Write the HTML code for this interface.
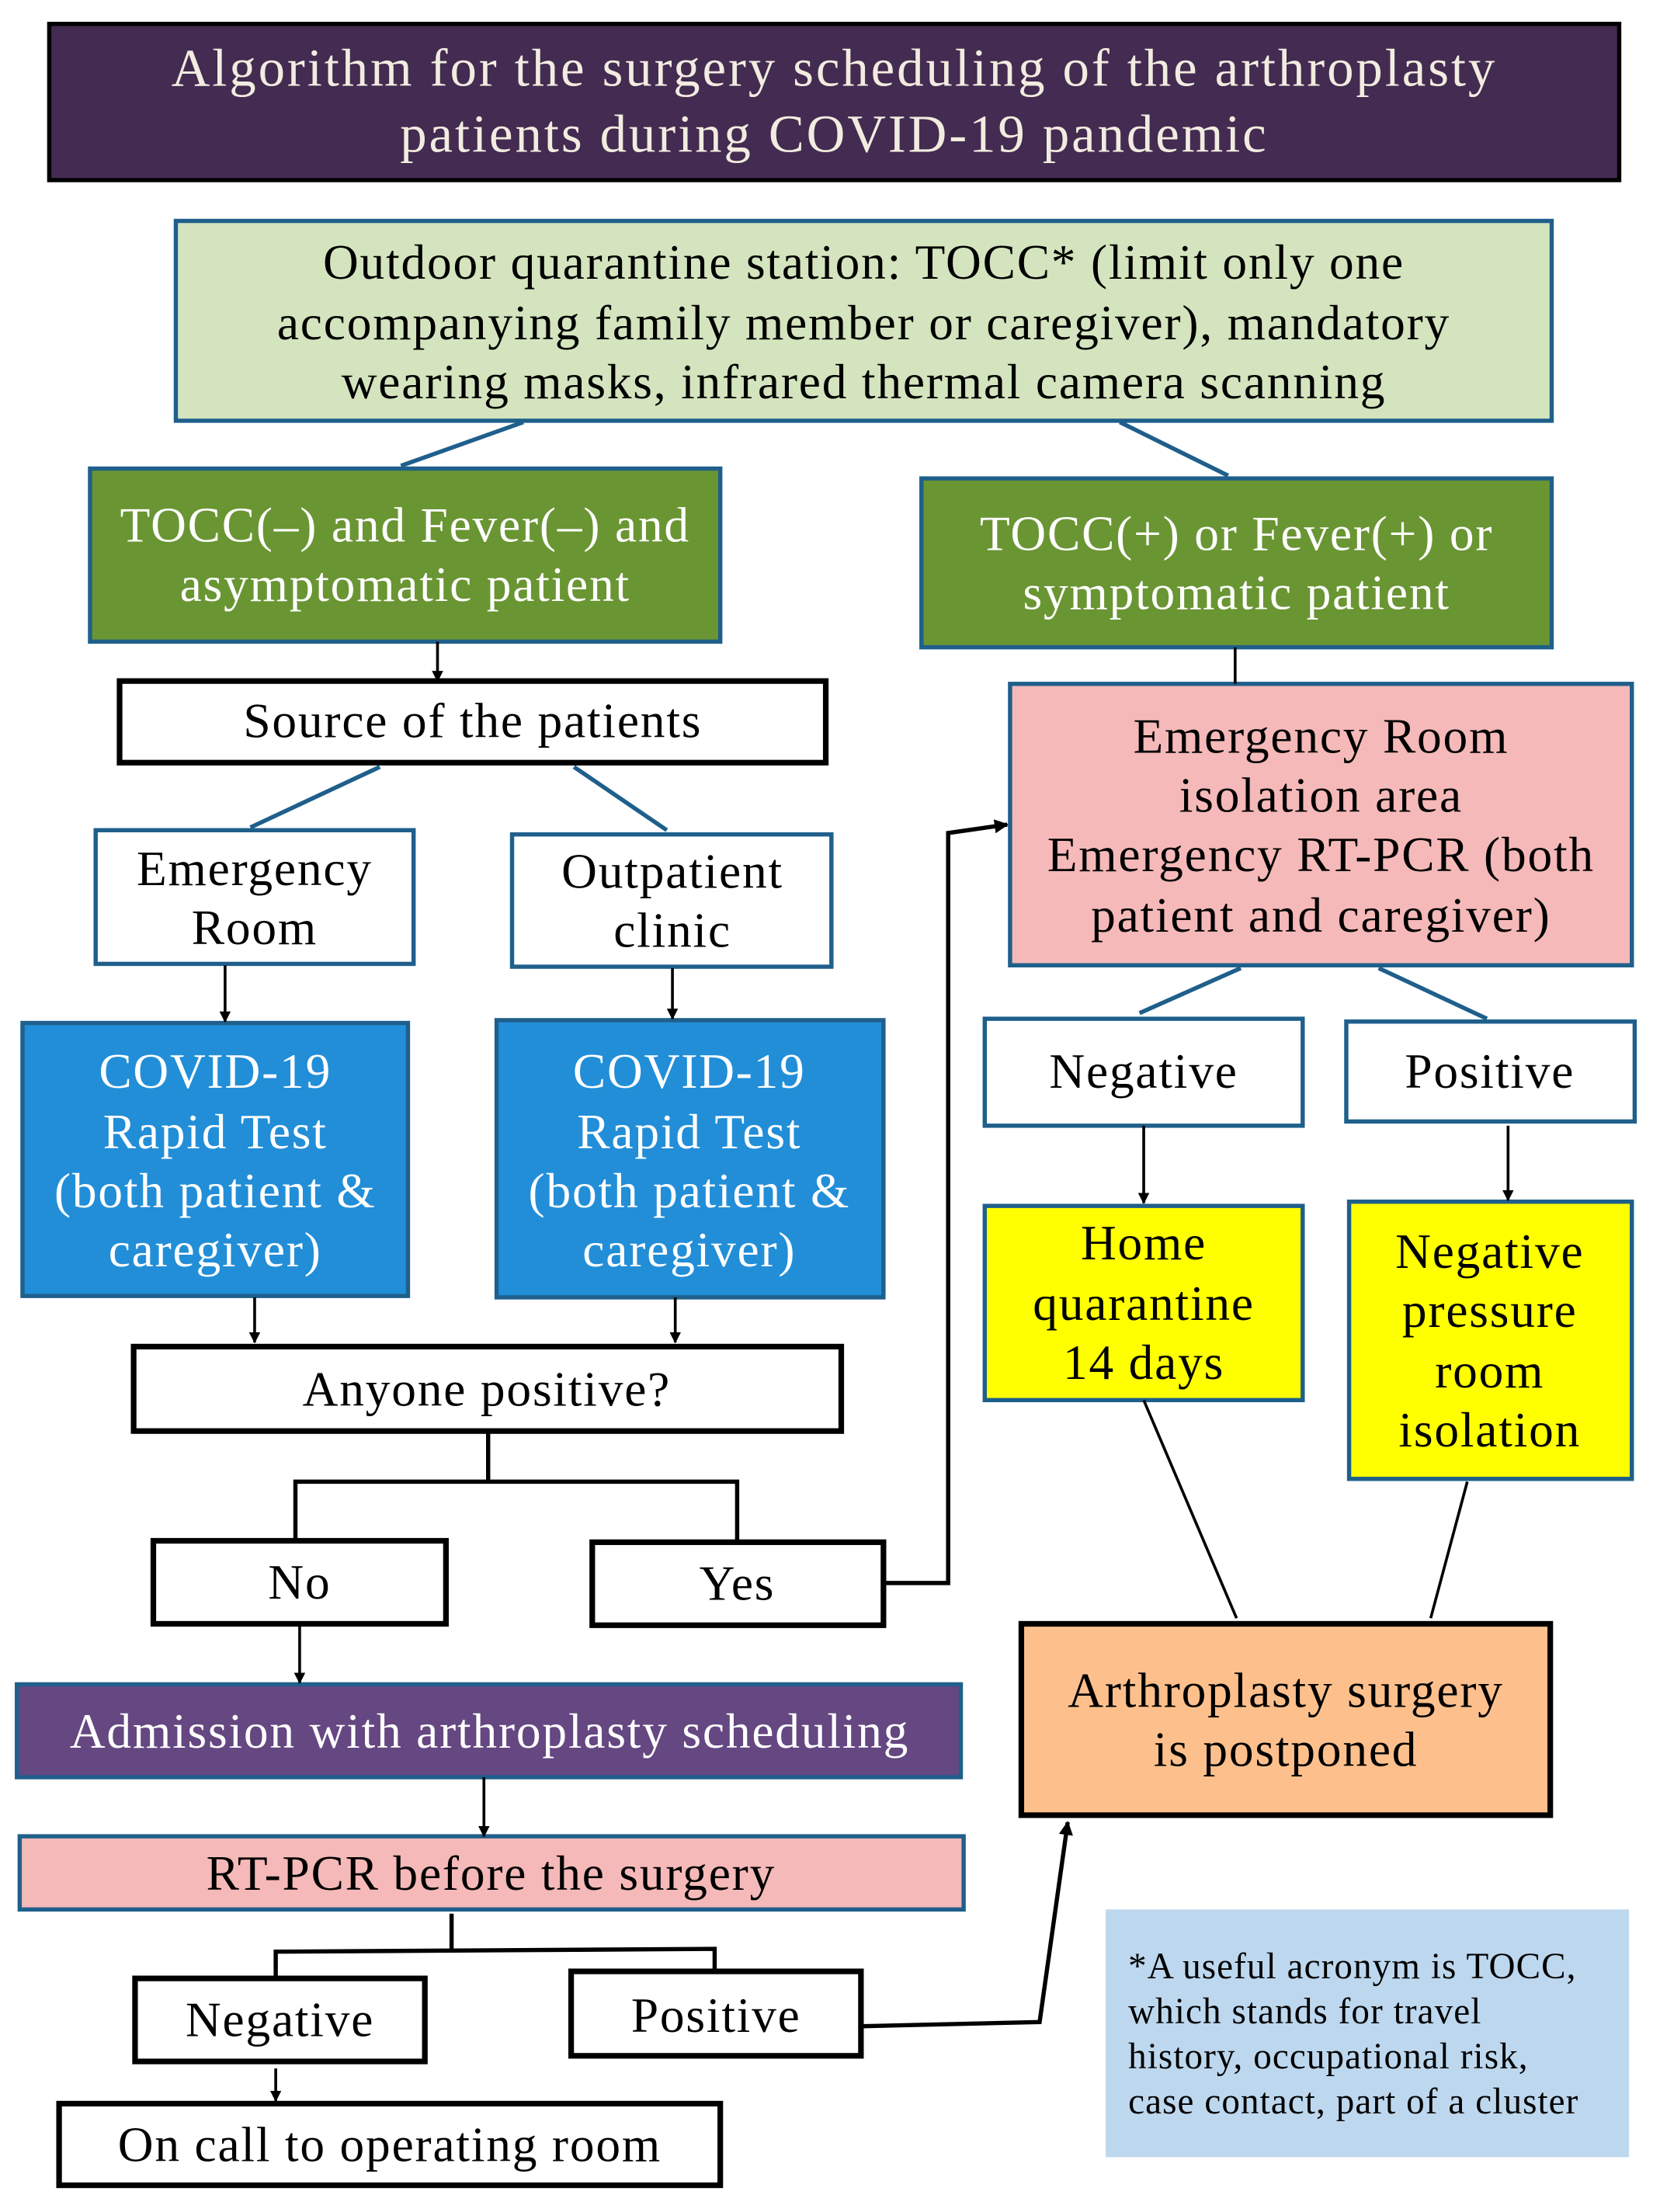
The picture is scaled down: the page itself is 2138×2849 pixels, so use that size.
<!DOCTYPE html>
<html><head><meta charset="utf-8"><style>
html,body{margin:0;padding:0;background:#fff;}
svg{display:block;}
text{font-family:"Liberation Serif",serif;text-anchor:middle;}
</style></head><body>
<svg width="2138" height="2849" viewBox="0 0 1180 1572" preserveAspectRatio="none" xmlns="http://www.w3.org/2000/svg">
<defs><marker id="a" viewBox="0 0 10 10" refX="9" refY="5" markerWidth="8" markerHeight="8" orient="auto" markerUnits="userSpaceOnUse"><path d="M0,0L10,5L0,10z" fill="#000"/></marker>
<marker id="b" viewBox="0 0 10 10" refX="9" refY="5" markerWidth="14" markerHeight="10" orient="auto" markerUnits="userSpaceOnUse"><path d="M0,0L10,5L0,10z" fill="#000"/></marker></defs>
<g stroke-width="3">
<rect x="35" y="17" width="1116" height="111" fill="#432b51" stroke="#000"/>
<rect x="125" y="157" width="978" height="142" fill="#d4e4be" stroke="#1f5f8b"/>
<rect x="64" y="333" width="448" height="123" fill="#6a9533" stroke="#1f5f8b"/>
<rect x="655" y="340" width="448" height="120" fill="#6a9533" stroke="#1f5f8b"/>
<rect x="85" y="484" width="502" height="58" fill="#fff" stroke="#000" stroke-width="4"/>
<rect x="718" y="486" width="442" height="200" fill="#f4b9b8" stroke="#1f5f8b"/>
<rect x="68" y="590" width="226" height="95" fill="#fff" stroke="#1f5f8b"/>
<rect x="364" y="593" width="227" height="94" fill="#fff" stroke="#1f5f8b"/>
<rect x="16" y="727" width="274" height="194" fill="#228ed8" stroke="#1f5f8b"/>
<rect x="353" y="725" width="275" height="197" fill="#228ed8" stroke="#1f5f8b"/>
<rect x="95" y="957" width="503" height="60" fill="#fff" stroke="#000" stroke-width="4"/>
<rect x="109" y="1095" width="208" height="59" fill="#fff" stroke="#000" stroke-width="4"/>
<rect x="421" y="1096" width="207" height="59" fill="#fff" stroke="#000" stroke-width="4"/>
<rect x="12" y="1197" width="671" height="66" fill="#654781" stroke="#1f5f8b"/>
<rect x="14" y="1305" width="671" height="52" fill="#f4b9b8" stroke="#1f5f8b"/>
<rect x="96" y="1406" width="206" height="59" fill="#fff" stroke="#000" stroke-width="4"/>
<rect x="406" y="1401" width="206" height="60" fill="#fff" stroke="#000" stroke-width="4"/>
<rect x="42" y="1495" width="470" height="58" fill="#fff" stroke="#000" stroke-width="4"/>
<rect x="726" y="1154" width="376" height="136" fill="#fdc08d" stroke="#000" stroke-width="4"/>
<rect x="786" y="1357" width="372" height="176" fill="#bdd7ee" stroke="none"/>
<rect x="700" y="724" width="226" height="76" fill="#fff" stroke="#1f5f8b"/>
<rect x="957" y="726" width="205" height="71" fill="#fff" stroke="#1f5f8b"/>
<rect x="700" y="857" width="226" height="138" fill="#ffff00" stroke="#1f5f8b"/>
<rect x="959" y="854" width="201" height="197" fill="#ffff00" stroke="#1f5f8b"/>
</g>
<g stroke="#1f5f8b" stroke-width="3" fill="none">
<path d="M285,331L372,300M796,300L873,338M270,545L178,588M408,545L474,590M882,688L810,720M980,688L1057,724"/>
</g>
<g stroke="#000" stroke-width="2" fill="none">
<path d="M311,456V484" marker-end="url(#a)"/>
<path d="M878,460V486"/>
<path d="M160,686V726" marker-end="url(#a)"/>
<path d="M478,688V724" marker-end="url(#a)"/>
<path d="M181,922V954" marker-end="url(#a)"/>
<path d="M480,922V954" marker-end="url(#a)"/>
<path d="M347,1017V1053M210,1095V1053H524V1095" stroke-width="3"/>
<path d="M628,1125H674V592L716,586" stroke-width="3" marker-end="url(#b)"/>
<path d="M213,1154V1196" marker-end="url(#a)"/>
<path d="M344,1263V1305" marker-end="url(#a)"/>
<path d="M321,1360V1386M196,1406V1387L508,1385V1401" stroke-width="3"/>
<path d="M196,1470V1493" marker-end="url(#a)"/>
<path d="M612,1440L739,1437L759,1295" stroke-width="3" marker-end="url(#b)"/>
<path d="M813,800V855" marker-end="url(#a)"/>
<path d="M1072,800V853" marker-end="url(#a)"/>
<path d="M813,995L879,1150M1043,1053L1017,1150"/>
</g>
<g font-size="38" fill="#f2ece0" letter-spacing="1.6">
<text x="593" y="61">Algorithm for the surgery scheduling of the arthroplasty</text>
<text x="593" y="108">patients during COVID-19 pandemic</text>
</g>
<g font-size="35" fill="#000" letter-spacing="1">
<text x="614" y="198">Outdoor quarantine station: TOCC* (limit only one</text>
<text x="614" y="241">accompanying family member or caregiver), mandatory</text>
<text x="614" y="283">wearing masks, infrared thermal camera scanning</text>
<text x="336" y="524">Source of the patients</text>
<text x="939" y="535">Emergency Room</text>
<text x="939" y="577">isolation area</text>
<text x="939" y="619">Emergency RT-PCR (both</text>
<text x="939" y="662">patient and caregiver)</text>
<text x="181" y="629">Emergency</text>
<text x="181" y="671">Room</text>
<text x="478" y="631">Outpatient</text>
<text x="478" y="673">clinic</text>
<text x="346" y="999">Anyone positive?</text>
<text x="213" y="1136">No</text>
<text x="524" y="1137">Yes</text>
<text x="813" y="773">Negative</text>
<text x="1059" y="773">Positive</text>
<text x="813" y="895">Home</text>
<text x="813" y="938">quarantine</text>
<text x="813" y="980">14 days</text>
<text x="1059" y="901">Negative</text>
<text x="1059" y="943">pressure</text>
<text x="1059" y="986">room</text>
<text x="1059" y="1028">isolation</text>
<text x="914" y="1213">Arthroplasty surgery</text>
<text x="914" y="1255">is postponed</text>
<text x="349" y="1343">RT-PCR before the surgery</text>
<text x="199" y="1447">Negative</text>
<text x="509" y="1444">Positive</text>
<text x="277" y="1536">On call to operating room</text>
</g>
<g font-size="35" fill="#fff" letter-spacing="1">
<text x="288" y="385">TOCC(–) and Fever(–) and</text>
<text x="288" y="427">asymptomatic patient</text>
<text x="879" y="391">TOCC(+) or Fever(+) or</text>
<text x="879" y="433">symptomatic patient</text>
<text x="153" y="773">COVID-19</text>
<text x="153" y="816">Rapid Test</text>
<text x="153" y="858">(both patient &amp;</text>
<text x="153" y="900">caregiver)</text>
<text x="490" y="773">COVID-19</text>
<text x="490" y="816">Rapid Test</text>
<text x="490" y="858">(both patient &amp;</text>
<text x="490" y="900">caregiver)</text>
<text x="348" y="1242">Admission with arthroplasty scheduling</text>
</g>
<g font-size="26" fill="#000" letter-spacing="0.6">
<text x="802" y="1406" style="text-anchor:start">*A useful acronym is TOCC,</text>
<text x="802" y="1438" style="text-anchor:start">which stands for travel</text>
<text x="802" y="1470" style="text-anchor:start">history, occupational risk,</text>
<text x="802" y="1502" style="text-anchor:start">case contact, part of a cluster</text>
</g>
</svg>
</body></html>
